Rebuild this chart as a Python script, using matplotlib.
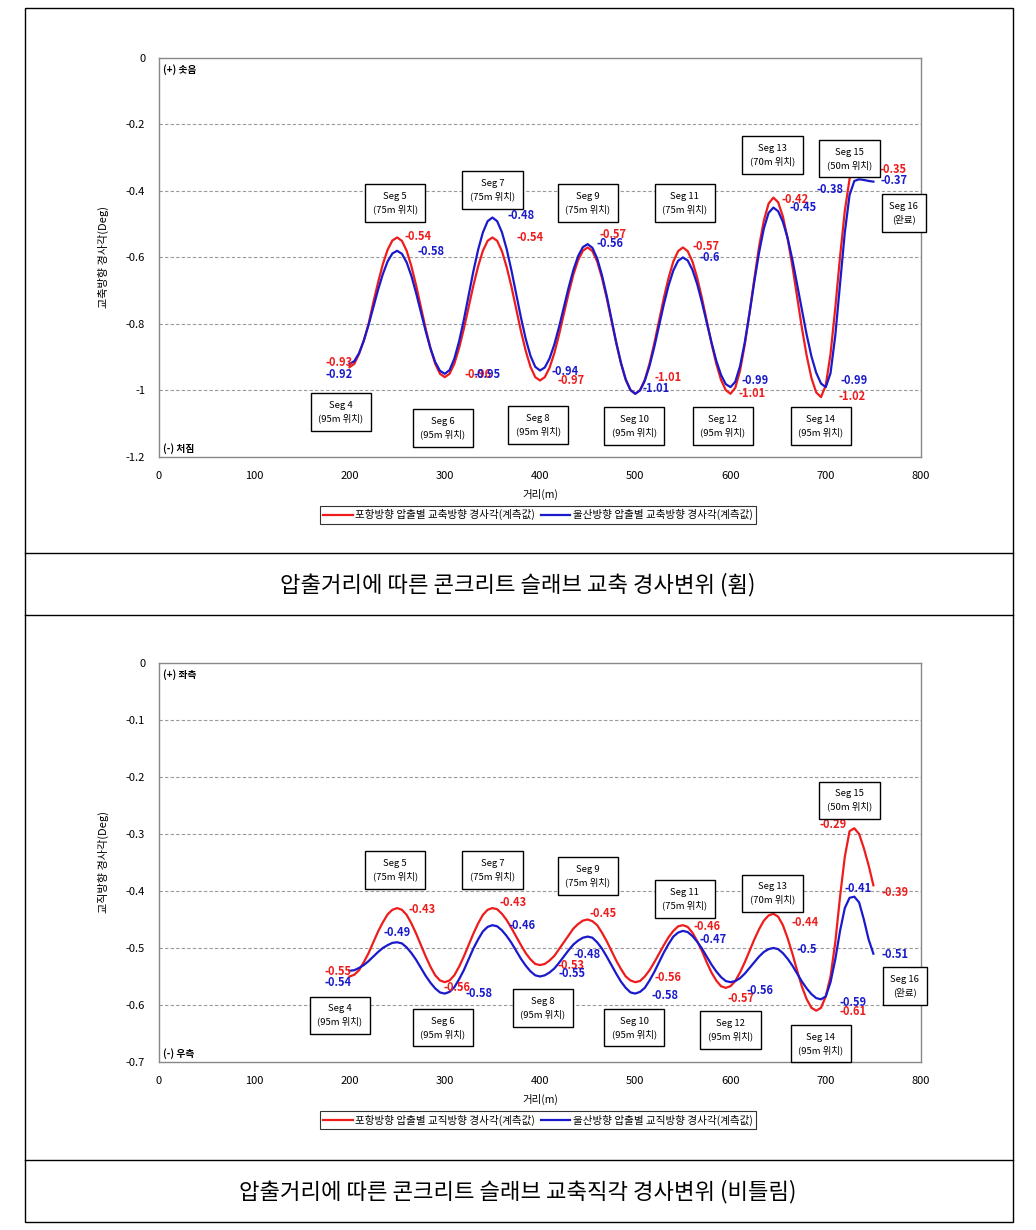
import numpy as np
import matplotlib
matplotlib.use('Agg')
import matplotlib.pyplot as plt
from matplotlib.lines import Line2D
from matplotlib.patches import Rectangle

plt.rcParams['font.family'] = ['Noto Sans CJK KR', 'DejaVu Sans']

# distance (m), read every 5 m from 200 to 750
dist = list(range(200, 751, 5))

# 교축방향 (top chart)
pohang_long = [-0.93, -0.92, -0.89, -0.85, -0.80, -0.735, -0.675, -0.62, -0.577, -0.549,
               -0.54, -0.55, -0.58, -0.627, -0.685, -0.75, -0.815, -0.873, -0.92, -0.95,
               -0.96, -0.95, -0.92, -0.873, -0.815, -0.75, -0.685, -0.627, -0.58, -0.55,
               -0.54, -0.55, -0.581, -0.629, -0.688, -0.755, -0.822, -0.881, -0.929, -0.96,
               -0.97, -0.96, -0.932, -0.888, -0.832, -0.77, -0.708, -0.652, -0.608, -0.58,
               -0.57, -0.581, -0.612, -0.661, -0.722, -0.79, -0.858, -0.919, -0.968, -0.999,
               -1.01, -0.999, -0.968, -0.919, -0.858, -0.79, -0.722, -0.661, -0.612, -0.581,
               -0.57, -0.581, -0.612, -0.661, -0.722, -0.79, -0.858, -0.919, -0.968, -0.999,
               -1.01, -0.992, -0.941, -0.862, -0.766, -0.664, -0.567, -0.489, -0.438, -0.42,
               -0.434, -0.477, -0.544, -0.627, -0.72, -0.813, -0.896, -0.963, -1.006, -1.02,
               -0.985, -0.89, -0.752, -0.598, -0.46, -0.364, -0.33, -0.33, -0.335, -0.343,
               -0.35]
ulsan_long = [-0.92, -0.912, -0.888, -0.85, -0.803, -0.75, -0.697, -0.65, -0.612, -0.588,
              -0.58, -0.589, -0.615, -0.656, -0.708, -0.765, -0.822, -0.874, -0.915, -0.941,
              -0.95, -0.939, -0.905, -0.853, -0.788, -0.715, -0.642, -0.577, -0.525, -0.491,
              -0.48, -0.491, -0.524, -0.575, -0.639, -0.71, -0.781, -0.845, -0.896, -0.929,
              -0.94, -0.931, -0.904, -0.862, -0.809, -0.75, -0.691, -0.638, -0.596, -0.569,
              -0.56, -0.571, -0.603, -0.653, -0.715, -0.785, -0.855, -0.917, -0.967, -0.999,
              -1.01, -1.0, -0.971, -0.926, -0.869, -0.805, -0.741, -0.684, -0.639, -0.61,
              -0.60, -0.609, -0.637, -0.68, -0.735, -0.795, -0.855, -0.91, -0.953, -0.981,
              -0.99, -0.974, -0.927, -0.855, -0.767, -0.673, -0.585, -0.513, -0.466, -0.45,
              -0.461, -0.493, -0.542, -0.607, -0.682, -0.758, -0.833, -0.898, -0.947, -0.979,
              -0.99, -0.948, -0.835, -0.68, -0.525, -0.412, -0.37, -0.365, -0.367, -0.37,
              -0.372]

# 교직방향 (bottom chart)
pohang_trans = [-0.55, -0.547, -0.539, -0.525, -0.509, -0.49, -0.471, -0.455, -0.441, -0.433,
                -0.43, -0.433, -0.442, -0.457, -0.475, -0.495, -0.515, -0.533, -0.548, -0.557,
                -0.56, -0.557, -0.548, -0.533, -0.515, -0.495, -0.475, -0.457, -0.442, -0.433,
                -0.43, -0.432, -0.44, -0.451, -0.465, -0.48, -0.495, -0.509, -0.52, -0.528,
                -0.53, -0.528, -0.522, -0.514, -0.502, -0.49, -0.478, -0.466, -0.458, -0.452,
                -0.45, -0.453, -0.46, -0.473, -0.488, -0.505, -0.522, -0.537, -0.55, -0.557,
                -0.56, -0.558, -0.55, -0.539, -0.525, -0.51, -0.495, -0.481, -0.47, -0.462,
                -0.46, -0.463, -0.473, -0.488, -0.505, -0.525, -0.543, -0.557, -0.567, -0.57,
                -0.567, -0.558, -0.543, -0.525, -0.505, -0.485, -0.467, -0.452, -0.443, -0.44,
                -0.445, -0.46, -0.483, -0.51, -0.54, -0.568, -0.59, -0.605, -0.61, -0.605,
                -0.585, -0.55, -0.49, -0.41, -0.34, -0.295, -0.29, -0.30, -0.325, -0.355,
                -0.39]
ulsan_trans = [-0.54, -0.539, -0.535, -0.53, -0.523, -0.515, -0.507, -0.50, -0.495, -0.491,
               -0.49, -0.492, -0.499, -0.509, -0.521, -0.535, -0.549, -0.561, -0.571, -0.578,
               -0.58, -0.577, -0.569, -0.555, -0.539, -0.52, -0.501, -0.485, -0.471, -0.463,
               -0.46, -0.462, -0.469, -0.479, -0.491, -0.505, -0.519, -0.531, -0.541, -0.548,
               -0.55, -0.548, -0.543, -0.536, -0.526, -0.515, -0.504, -0.494, -0.487, -0.482,
               -0.48, -0.482, -0.49, -0.501, -0.515, -0.53, -0.545, -0.559, -0.57, -0.578,
               -0.58, -0.577, -0.57, -0.557, -0.542, -0.525, -0.508, -0.493, -0.48, -0.473,
               -0.47, -0.472, -0.479, -0.489, -0.501, -0.515, -0.529, -0.541, -0.551, -0.558,
               -0.56, -0.558, -0.553, -0.545, -0.535, -0.525, -0.515, -0.507, -0.502, -0.50,
               -0.502, -0.509, -0.519, -0.531, -0.545, -0.559, -0.571, -0.581, -0.588, -0.59,
               -0.585, -0.56, -0.52, -0.47, -0.43, -0.412, -0.41, -0.42, -0.45, -0.485,
               -0.51]

# value labels: (text, x, y)
top_red_labels = [('-0.93', 189, -0.917), ('-0.54', 272, -0.538), ('-0.96', 335, -0.953),
                  ('-0.54', 390, -0.541), ('-0.97', 433, -0.971), ('-0.57', 477, -0.532),
                  ('-1.01', 534, -0.962), ('-0.57', 574, -0.568), ('-1.01', 623, -1.008),
                  ('-0.42', 668, -0.427), ('-1.02', 728, -1.017), ('-0.33', 709, -0.346),
                  ('-0.35', 771, -0.337)]
top_blue_labels = [('-0.92', 189, -0.953), ('-0.58', 286, -0.583), ('-0.95', 344, -0.953),
                   ('-0.48', 380, -0.475), ('-0.94', 426, -0.944), ('-0.56', 473, -0.559),
                   ('-1.01', 522, -0.995), ('-0.6', 578, -0.600), ('-0.99', 626, -0.971),
                   ('-0.45', 676, -0.451), ('-0.99', 730, -0.971), ('-0.38', 704, -0.397),
                   ('-0.37', 772, -0.370)]
bot_red_labels = [('-0.55', 188, -0.542), ('-0.43', 276, -0.432), ('-0.56', 313, -0.570),
                  ('-0.43', 372, -0.421), ('-0.53', 433, -0.530), ('-0.45', 466, -0.439),
                  ('-0.56', 534, -0.551), ('-0.46', 575, -0.463), ('-0.57', 611, -0.588),
                  ('-0.44', 678, -0.456), ('-0.61', 729, -0.611), ('-0.29', 708, -0.284),
                  ('-0.39', 773, -0.402)]
bot_blue_labels = [('-0.54', 188, -0.561), ('-0.49', 250, -0.472), ('-0.58', 336, -0.579),
                   ('-0.46', 381, -0.461), ('-0.55', 434, -0.544), ('-0.48', 449, -0.512),
                   ('-0.58', 531, -0.584), ('-0.47', 582, -0.486), ('-0.56', 631, -0.574),
                   ('-0.5', 680, -0.502), ('-0.59', 729, -0.595), ('-0.41', 734, -0.395),
                   ('-0.51', 773, -0.512)]

# segment boxes: (text, x, y)
top_segs = [('Seg 4\n(95m 위치)', 191, -1.065), ('Seg 5\n(75m 위치)', 248, -0.436),
            ('Seg 6\n(95m 위치)', 298, -1.113), ('Seg 7\n(75m 위치)', 350, -0.397),
            ('Seg 8\n(95m 위치)', 398, -1.104), ('Seg 9\n(75m 위치)', 450, -0.436),
            ('Seg 10\n(95m 위치)', 499, -1.107), ('Seg 11\n(75m 위치)', 552, -0.436),
            ('Seg 12\n(95m 위치)', 592, -1.107), ('Seg 13\n(70m 위치)', 644, -0.292),
            ('Seg 14\n(95m 위치)', 695, -1.107), ('Seg 15\n(50m 위치)', 725, -0.303),
            ('Seg 16\n(완료)', 782, -0.466)]
bot_segs = [('Seg 4\n(95m 위치)', 190, -0.618), ('Seg 5\n(75m 위치)', 248, -0.363),
            ('Seg 6\n(95m 위치)', 298, -0.640), ('Seg 7\n(75m 위치)', 350, -0.363),
            ('Seg 8\n(95m 위치)', 403, -0.605), ('Seg 9\n(75m 위치)', 450, -0.374),
            ('Seg 10\n(95m 위치)', 499, -0.640), ('Seg 11\n(75m 위치)', 552, -0.414),
            ('Seg 12\n(95m 위치)', 600, -0.644), ('Seg 13\n(70m 위치)', 644, -0.404),
            ('Seg 14\n(95m 위치)', 695, -0.668), ('Seg 15\n(50m 위치)', 725, -0.241),
            ('Seg 16\n(완료)', 783, -0.567)]

RED = '#ee1c1c'
BLUE = '#1a1acc'

fig = plt.figure(figsize=(10.36, 12.30), dpi=100)


def draw_chart(ax, red, blue, red_lab, blue_lab, segs, ymin, ystep, ylabel,
               legend_names, top_note, bot_note):
    ax.plot(dist, red, color=RED, lw=1.6, label=legend_names[0])
    ax.plot(dist, blue, color=BLUE, lw=1.6, label=legend_names[1])
    ax.set_xlim(0, 800)
    ax.set_ylim(ymin, 0)
    ax.set_xticks(np.arange(0, 801, 100))
    yt = np.round(np.arange(ymin, 0.0001, ystep), 2)
    ax.set_yticks(yt)
    ax.set_yticklabels(['0' if v == 0 else ('%g' % v) for v in yt])
    ax.tick_params(length=0, labelsize=8, pad=10)
    for v in yt[1:-1]:
        ax.axhline(v, color='#999999', lw=0.8, ls=(0, (3, 2)), zorder=0)
    for s in ax.spines.values():
        s.set_color('#888888')
        s.set_linewidth(1.0)
    ax.set_xlabel('거리(m)', fontsize=7.5, labelpad=6)
    ax.set_ylabel(ylabel, fontsize=8, labelpad=12)
    for t, x, y in red_lab:
        ax.text(x, y, t, color=RED, fontsize=8, fontweight='bold', ha='center', va='center')
    for t, x, y in blue_lab:
        ax.text(x, y, t, color=BLUE, fontsize=8, fontweight='bold', ha='center', va='center')
    for t, x, y in segs:
        ax.text(x, y, t, fontsize=6.8, ha='center', va='center', linespacing=1.45,
                clip_on=False, zorder=5,
                bbox=dict(boxstyle='square,pad=0.8', fc='white', ec='black', lw=1.0))
    ax.text(0.005, 0.97, top_note, transform=ax.transAxes, fontsize=7,
            fontweight='bold', va='center')
    ax.text(0.005, 0.02, bot_note, transform=ax.transAxes, fontsize=7,
            fontweight='bold', va='center')
    leg = ax.legend(loc='upper center', bbox_to_anchor=(0.497, -0.11), ncol=2,
                    fontsize=7.6, frameon=True, fancybox=False, handlelength=2.8,
                    borderpad=0.3, columnspacing=0.6, handletextpad=0.2)
    leg.get_frame().set_edgecolor('black')
    leg.get_frame().set_linewidth(0.8)


ax1 = fig.add_axes([0.1535, 0.6285, 0.7355, 0.3244])
draw_chart(ax1, pohang_long, ulsan_long, top_red_labels, top_blue_labels, top_segs,
           -1.2, 0.2, '교축방향 경사각(Deg)',
           ['포항방향 압출별 교축방향 경사각(계측값)', '울산방향 압출별 교축방향 경사각(계측값)'],
           '(+) 솟음', '(-) 처짐')

ax2 = fig.add_axes([0.1535, 0.1366, 0.7355, 0.3244])
draw_chart(ax2, pohang_trans, ulsan_trans, bot_red_labels, bot_blue_labels, bot_segs,
           -0.7, 0.1, '교직방향 경사각(Deg)',
           ['포항방향 압출별 교직방향 경사각(계측값)', '울산방향 압출별 교직방향 경사각(계측값)'],
           '(+) 좌측', '(-) 우측')

# table frame around the two figures and captions
W, H = 1036.0, 1230.0
fig.add_artist(Rectangle((25 / W, 1 - 1222 / H), (1013 - 25) / W, (1222 - 8) / H,
                         transform=fig.transFigure, fill=False, ec='black', lw=1.0))
for yy in [553, 615, 1160]:
    fig.add_artist(Line2D([25 / W, 1013 / W], [1 - yy / H, 1 - yy / H],
                          transform=fig.transFigure, color='black', lw=1.0))

fig.text(0.5, 1 - 585 / H, '압출거리에 따른 콘크리트 슬래브 교축 경사변위 (휨)',
         ha='center', va='center', fontsize=16)
fig.text(0.5, 1 - 1192 / H, '압출거리에 따른 콘크리트 슬래브 교축직각 경사변위 (비틀림)',
         ha='center', va='center', fontsize=16)

fig.savefig('out.png', dpi=100)
